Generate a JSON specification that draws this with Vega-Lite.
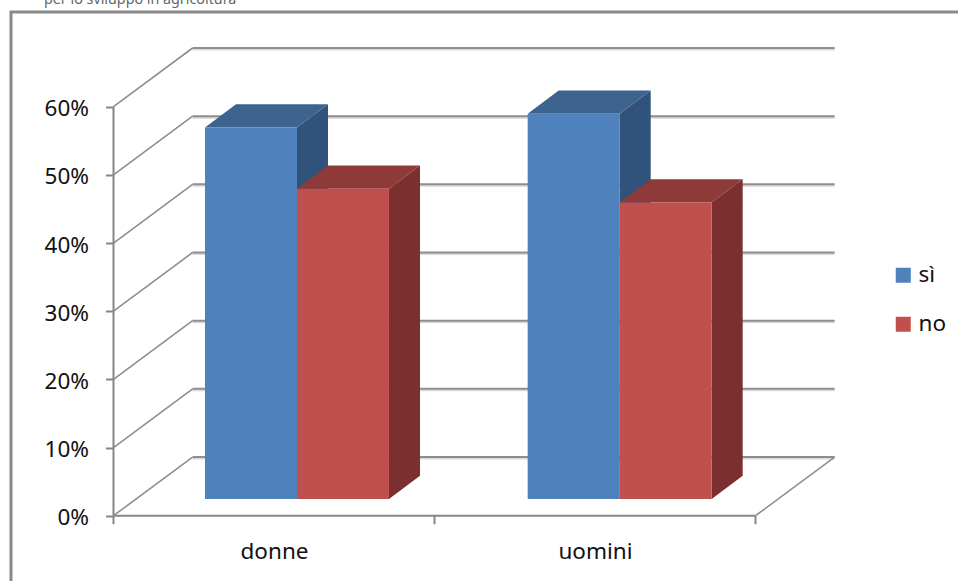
{
  "$schema": "https://vega.github.io/schema/vega-lite/v6.json",
  "width": 949,
  "height": 571,
  "autosize": "none",
  "padding": {"left": 11, "top": 12, "right": 0, "bottom": 0},
  "background": "white",
  "view": {"stroke": "#8a8a8a", "strokeWidth": 3, "fill": "white"},
  "title": {
    "text": "per lo sviluppo in agricoltura",
    "anchor": "start",
    "frame": "group",
    "dx": 33,
    "offset": -6,
    "fontSize": 14.3,
    "fontWeight": "normal",
    "font": "Noto Sans",
    "color": "#666666",
    "baseline": "alphabetic"
  },
  "config": {"font": "Noto Sans"},
  "params": [
    {"name": "muroX", "value": 0.2465},
    {"name": "muroY", "value": 8.61},
    {"name": "barraX", "value": 0.0966},
    {"name": "barraY", "value": 3.42},
    {"name": "baseBarra", "value": 2.45},
    {"name": "largBarra", "value": 0.2866},
    {"name": "passo", "value": 1.0053}
  ],
  "datasets": {
    "risposte": [
      {"gruppo": "donne", "risposta": "sì", "valore": 54.5},
      {"gruppo": "donne", "risposta": "no", "valore": 45.5},
      {"gruppo": "uomini", "risposta": "sì", "valore": 56.5},
      {"gruppo": "uomini", "risposta": "no", "valore": 43.5}
    ],
    "livelli": [
      {"livello": 0}, {"livello": 10}, {"livello": 20}, {"livello": 30},
      {"livello": 40}, {"livello": 50}, {"livello": 60}
    ]
  },
  "layer": [
    {
      "description": "Soft shadow under the back wall gridlines",
      "data": {"name": "livelli"},
      "transform": [
        {"calculate": "muroX", "as": "x1"},
        {"calculate": "2 + muroX", "as": "x2"},
        {"calculate": "datum.livello + muroY", "as": "yy"}
      ],
      "mark": {"type": "rule", "stroke": "#d9d9d9", "strokeWidth": 2, "yOffset": 1.5},
      "encoding": {
        "x": {
          "field": "x1", "type": "quantitative", "title": null,
          "scale": {"domain": [-0.3193, 2.6371], "nice": false, "zero": false},
          "axis": {
            "values": [0, 0.5, 1, 1.5, 2],
            "offset": -67.3,
            "domain": false,
            "grid": false,
            "tickSize": 8,
            "tickWidth": 2,
            "tickColor": "#868686",
            "tickOpacity": {"condition": {"test": "datum.value % 1 !== 0", "value": 0}, "value": 1},
            "labelExpr": "datum.value === 0.5 ? 'donne' : datum.value === 1.5 ? 'uomini' : ''",
            "labelFontSize": 22.5,
            "labelColor": "#111111",
            "labelPadding": 17,
            "labelOverlap": false,
            "labelFlush": false
          }
        },
        "x2": {"field": "x2"},
        "y": {
          "field": "yy", "type": "quantitative", "title": null,
          "scale": {"domain": [-9.87, 73.89], "nice": false, "zero": false},
          "axis": {
            "values": [0, 10, 20, 30, 40, 50, 60],
            "labelExpr": "datum.value + '%'",
            "offset": -102.5,
            "domain": false,
            "grid": false,
            "tickSize": 8,
            "tickWidth": 2,
            "tickColor": "#868686",
            "labelFontSize": 22.5,
            "labelColor": "#111111",
            "labelPadding": 17,
            "labelOffset": 2
          }
        }
      }
    },
    {
      "description": "Back wall gridlines",
      "data": {"name": "livelli"},
      "transform": [
        {"calculate": "muroX", "as": "x1"},
        {"calculate": "2 + muroX", "as": "x2"},
        {"calculate": "datum.livello + muroY", "as": "yy"}
      ],
      "mark": {"type": "rule", "stroke": "#8e8e8e", "strokeWidth": 2},
      "encoding": {
        "x": {"field": "x1", "type": "quantitative", "title": null, "scale": {"domain": [-0.3193, 2.6371], "nice": false, "zero": false}},
        "x2": {"field": "x2"},
        "y": {"field": "yy", "type": "quantitative", "title": null, "scale": {"domain": [-9.87, 73.89], "nice": false, "zero": false}}
      }
    },
    {
      "description": "Side wall diagonals running back from the value axis",
      "data": {"name": "livelli"},
      "transform": [
        {"calculate": "0", "as": "x1"},
        {"calculate": "muroX", "as": "x2"},
        {"calculate": "datum.livello + muroY", "as": "yy"}
      ],
      "mark": {"type": "rule", "stroke": "#8e8e8e", "strokeWidth": 1.6},
      "encoding": {
        "x": {"field": "x1", "type": "quantitative", "title": null, "scale": {"domain": [-0.3193, 2.6371], "nice": false, "zero": false}},
        "x2": {"field": "x2"},
        "y": {"field": "livello", "type": "quantitative", "title": null, "scale": {"domain": [-9.87, 73.89], "nice": false, "zero": false}},
        "y2": {"field": "yy"}
      }
    },
    {
      "description": "Floor edge on the right",
      "data": {"name": "livelli"},
      "transform": [
        {"filter": "datum.livello === 0"},
        {"calculate": "2", "as": "x1"},
        {"calculate": "2 + muroX", "as": "x2"},
        {"calculate": "muroY", "as": "yy"}
      ],
      "mark": {"type": "rule", "stroke": "#8e8e8e", "strokeWidth": 1.6},
      "encoding": {
        "x": {"field": "x1", "type": "quantitative", "title": null, "scale": {"domain": [-0.3193, 2.6371], "nice": false, "zero": false}},
        "x2": {"field": "x2"},
        "y": {"field": "livello", "type": "quantitative", "title": null, "scale": {"domain": [-9.87, 73.89], "nice": false, "zero": false}},
        "y2": {"field": "yy"}
      }
    },
    {
      "description": "Category axis line",
      "data": {"name": "livelli"},
      "transform": [
        {"filter": "datum.livello === 0"},
        {"calculate": "0", "as": "x1"},
        {"calculate": "2", "as": "x2"}
      ],
      "mark": {"type": "rule", "stroke": "#868686", "strokeWidth": 2},
      "encoding": {
        "x": {"field": "x1", "type": "quantitative", "title": null, "scale": {"domain": [-0.3193, 2.6371], "nice": false, "zero": false}},
        "x2": {"field": "x2"},
        "y": {"field": "livello", "type": "quantitative", "title": null, "scale": {"domain": [-9.87, 73.89], "nice": false, "zero": false}}
      }
    },
    {
      "description": "Value axis line",
      "data": {"name": "livelli"},
      "transform": [
        {"filter": "datum.livello === 0"},
        {"calculate": "0", "as": "x1"},
        {"calculate": "60", "as": "y2"}
      ],
      "mark": {"type": "rule", "stroke": "#868686", "strokeWidth": 2},
      "encoding": {
        "x": {"field": "x1", "type": "quantitative", "title": null, "scale": {"domain": [-0.3193, 2.6371], "nice": false, "zero": false}},
        "y": {"field": "livello", "type": "quantitative", "title": null, "scale": {"domain": [-9.87, 73.89], "nice": false, "zero": false}},
        "y2": {"field": "y2"}
      }
    },
    {
      "description": "Right side face of each column",
      "data": {"name": "risposte"},
      "transform": [
        {"calculate": "passo * indexof(['donne','uomini'], datum.gruppo) + 0.285 + (datum.risposta === 'no' ? largBarra : 0) + largBarra", "as": "xb"},
        {"calculate": "[0, 1]", "as": "k"},
        {"flatten": ["k"]},
        {"calculate": "datum.xb + datum.k * barraX", "as": "px"},
        {"calculate": "baseBarra + datum.valore + datum.k * barraY", "as": "alto"},
        {"calculate": "baseBarra + datum.k * barraY", "as": "basso"}
      ],
      "mark": {"type": "area", "interpolate": "linear", "opacity": 1},
      "encoding": {
        "x": {"field": "px", "type": "quantitative", "title": null, "scale": {"domain": [-0.3193, 2.6371], "nice": false, "zero": false}},
        "y": {"field": "alto", "type": "quantitative", "title": null, "scale": {"domain": [-9.87, 73.89], "nice": false, "zero": false}},
        "y2": {"field": "basso"},
        "detail": [{"field": "gruppo"}, {"field": "risposta"}],
        "color": {"condition": {"test": "datum.risposta === 'sì'", "value": "#31527a"}, "value": "#7b2f2e"}
      }
    },
    {
      "description": "Top face of each column",
      "data": {"name": "risposte"},
      "transform": [
        {"calculate": "passo * indexof(['donne','uomini'], datum.gruppo) + 0.285 + (datum.risposta === 'no' ? largBarra : 0)", "as": "xa"},
        {"calculate": "baseBarra + datum.valore", "as": "yt"},
        {"calculate": "[0, 1, 2, 3]", "as": "k"},
        {"flatten": ["k"]},
        {"calculate": "datum.k === 0 ? datum.xa : datum.k === 1 ? datum.xa + barraX : datum.k === 2 ? datum.xa + largBarra : datum.xa + largBarra + barraX", "as": "px"},
        {"calculate": "datum.k === 0 ? datum.yt : datum.yt + barraY", "as": "alto"},
        {"calculate": "datum.k === 3 ? datum.yt + barraY : datum.yt", "as": "basso"}
      ],
      "mark": {"type": "area", "interpolate": "linear", "opacity": 1},
      "encoding": {
        "x": {"field": "px", "type": "quantitative", "title": null, "scale": {"domain": [-0.3193, 2.6371], "nice": false, "zero": false}},
        "y": {"field": "alto", "type": "quantitative", "title": null, "scale": {"domain": [-9.87, 73.89], "nice": false, "zero": false}},
        "y2": {"field": "basso"},
        "detail": [{"field": "gruppo"}, {"field": "risposta"}],
        "color": {"condition": {"test": "datum.risposta === 'sì'", "value": "#3d648f"}, "value": "#8e3a38"}
      }
    },
    {
      "description": "Front face of each column, carrying the legend",
      "data": {"name": "risposte"},
      "transform": [
        {"calculate": "passo * indexof(['donne','uomini'], datum.gruppo) + 0.285 + (datum.risposta === 'no' ? largBarra : 0)", "as": "xa"},
        {"calculate": "datum.xa + largBarra", "as": "xb"},
        {"calculate": "baseBarra", "as": "basso"},
        {"calculate": "baseBarra + datum.valore", "as": "alto"}
      ],
      "mark": {"type": "rect"},
      "encoding": {
        "x": {"field": "xa", "type": "quantitative", "title": null, "scale": {"domain": [-0.3193, 2.6371], "nice": false, "zero": false}},
        "x2": {"field": "xb"},
        "y": {"field": "alto", "type": "quantitative", "title": null, "scale": {"domain": [-9.87, 73.89], "nice": false, "zero": false}},
        "y2": {"field": "basso"},
        "color": {
          "field": "risposta",
          "type": "nominal",
          "scale": {"domain": ["sì", "no"], "range": ["#4f81bd", "#c0504d"]},
          "legend": {
            "title": null,
            "orient": "none",
            "legendX": 881,
            "legendY": 252,
            "symbolType": "square",
            "symbolSize": 225,
            "symbolStrokeWidth": 0,
            "symbolOpacity": 1,
            "labelFontSize": 22.5,
            "labelColor": "#111111",
            "labelOffset": 4,
            "rowPadding": 26
          }
        }
      }
    }
  ]
}
